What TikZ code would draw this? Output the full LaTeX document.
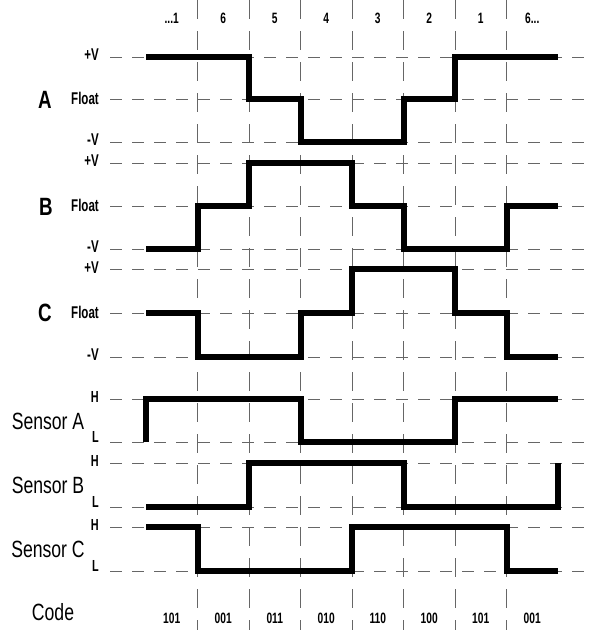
\documentclass[tikz,border=0pt]{standalone}
\usepackage{fontspec}
\setmainfont{Liberation Sans}[FakeStretch=0.75]
\newfontfamily\narrowfont{Liberation Sans}[FakeStretch=0.68]
\begin{document}
\begin{tikzpicture}[x=1pt,y=-1pt,
 hgrid/.style={draw=black!60, line width=1pt, dash pattern=on 12pt off 10pt},
 vgrid/.style={draw=black!60, line width=1pt, dash pattern=on 19pt off 12pt},
 wave/.style={line width=6pt, line join=miter},
 lvl/.style={anchor=east, inner sep=0pt, font=\narrowfont\bfseries\fontsize{17}{17}\selectfont},
 hl/.style={anchor=east, inner sep=0pt, font=\narrowfont\bfseries\fontsize{16}{16}\selectfont},
 sig/.style={inner sep=0pt, font=\bfseries\fontsize{25}{25}\selectfont},
 sens/.style={inner sep=0pt, font=\fontsize{23.5}{23.5}\selectfont},
 col/.style={inner sep=0pt, font=\narrowfont\bfseries\fontsize{15}{15}\selectfont}]
\useasboundingbox (0,0) rectangle (592,630);
% horizontal grid lines
\foreach \y in {57,99,142,163,206,249,269,313,357,399,442,463,507,527,571}
  \draw[hgrid] (110,\y) -- (585,\y);
% vertical grid lines
\foreach \x in {197.5,249,300.5,352,403.5,455,506.5}
  \draw[vgrid] (\x,0) -- (\x,630);
% column labels
\node[col] (top1) at (171.75,18) {.{}.{}.1};
\node[col] (top2) at (223.25,18) {6};
\node[col] (top3) at (274.75,18) {5};
\node[col] (top4) at (326.25,18) {4};
\node[col] (top5) at (377.75,18) {3};
\node[col] (top6) at (429.25,18) {2};
\node[col] (top7) at (480.75,18) {1};
\node[col] (top8) at (532.25,18) {6.{}.{}.};
\foreach \t [count=\i] in {101,001,011,010,110,100,101,001}
  \node[col] (code\i) at ({146+51.5*(\i-0.5)},618) {\t};
% signal names
\node[sig] (nA) at (45,100) {A};
\node[sig] (nB) at (46,207) {B};
\node[sig] (nC) at (45,313) {C};
\node[sens] (sA) at (48,421) {Sensor A};
\node[sens] (sB) at (48,485) {Sensor B};
\node[sens] (sC) at (48,549) {Sensor C};
\node[sens] (cd) at (53,612) {Code};
% level labels
\foreach \y/\t/\n in {55/+V/a1,98/Float/a2,140/-V/a3,161/+V/b1,205/Float/b2,247/-V/b3,268/+V/c1,312/Float/c2,355/-V/c3}
  \node[lvl] (l\n) at (99,\y) {\t};
\foreach \y/\t/\n in {397/H/sa1,437/L/sa2,461/H/sb1,502/L/sb2,525/H/sc1,566/L/sc2}
  \node[hl] (l\n) at (99,\y) {\t};
% waveforms
\draw[wave] (146,57) -- (249,57) -- (249,99) -- (300.5,99) -- (300.5,142) -- (403.5,142) -- (403.5,99) -- (455,99) -- (455,57) -- (558,57);
\draw[wave] (146,249) -- (197.5,249) -- (197.5,206) -- (249,206) -- (249,163) -- (352,163) -- (352,206) -- (403.5,206) -- (403.5,249) -- (506.5,249) -- (506.5,206) -- (558,206);
\draw[wave] (146,313) -- (197.5,313) -- (197.5,357) -- (300.5,357) -- (300.5,313) -- (352,313) -- (352,269) -- (455,269) -- (455,313) -- (506.5,313) -- (506.5,357) -- (558,357);
\draw[wave] (146,442) -- (146,399) -- (300.5,399) -- (300.5,442) -- (455,442) -- (455,399) -- (558,399);
\draw[wave] (146,507) -- (249,507) -- (249,463) -- (403.5,463) -- (403.5,507) -- (558,507) -- (558,463);
\draw[wave] (146,527) -- (197.5,527) -- (197.5,571) -- (352,571) -- (352,527) -- (506.5,527) -- (506.5,571) -- (558,571);
\end{tikzpicture}
\end{document}
